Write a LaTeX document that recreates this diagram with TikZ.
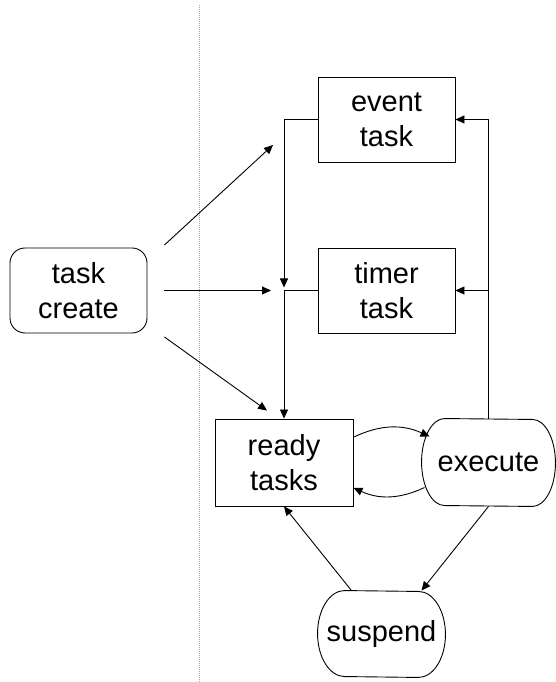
\documentclass[tikz,border=0pt]{standalone}
\usepackage{fontspec}
\setmainfont{Liberation Sans}
\usetikzlibrary{arrows.meta}

\begin{document}
\begin{tikzpicture}[x=1pt,y=1pt, line width=0.9pt,
    every node/.style={align=center, font=\fontsize{29}{35}\selectfont},
    tri/.style={-{Triangle[length=9pt,width=8pt]}},
    taskbox/.style={draw, minimum width=137pt, minimum height=85pt, inner sep=0pt},
    statebox/.style={minimum height=87pt, inner sep=0pt}]
  \useasboundingbox (0,0) rectangle (555,682);
  % dotted separator
  \draw[gray!70, line width=0.6pt, dash pattern=on 1pt off 1pt] (199,677) -- (199,0);

  \node[taskbox, rounded corners=15pt] (create) at (78.5,391.5) {task\\create};
  \node[taskbox] (event) at (386.5,562.5) {event\\task};
  \node[taskbox] (timer) at (386.5,391.5) {timer\\task};
  \node[taskbox, minimum width=138pt, minimum height=87pt] (ready) at (284,219.5) {ready\\tasks};
  \node[statebox, minimum width=133pt] (exec) at (488.5,219.5) {execute};
  \node[statebox, minimum width=127pt, minimum height=86pt] (susp) at (381.5,48) {suspend};
  % rounded ends of the state boxes
  \foreach \n/\r/\h in {exec/23/43.5,susp/27/43}
    \draw ([xshift=\r pt]\n.north west) arc[start angle=90,end angle=270,x radius=\r pt,y radius=\h pt]
      -- ([xshift=-\r pt]\n.south east) arc[start angle=-90,end angle=90,x radius=\r pt,y radius=\h pt] -- cycle;

  \coordinate (join) at (timer.west -| ready.north);
  \coordinate (in1) at (273,537);
  % new tasks
  \draw[tri] ([xshift=17pt,yshift=45.5pt]create.east) -- (in1);
  \draw[tri] ([xshift=17pt]create.east) -- ([xshift=-13pt]join);
  \draw[tri] ([xshift=17pt,yshift=-46.5pt]create.east) -- ([xshift=-17pt,yshift=8pt]ready.north);
  % into the ready queue
  \draw[tri] (event.west) -| ([yshift=3pt]join);
  \draw[tri] (timer.west) -| (ready.north);
  \draw[tri] (exec.north) |- (event.east);
  \draw[tri] (exec.north |- timer.east) -- (timer.east);
  % scheduling loop
  \draw[tri] (ready.20) to[bend left=25] ([xshift=8pt,yshift=26pt]exec.west);
  \draw[tri] ([xshift=3pt,yshift=-25pt]exec.west) to[bend left=25] (ready.-20);
  \draw[tri] (exec.south) -- ([xshift=40pt]susp.north);
  \draw[tri] ([xshift=-30pt]susp.north) -- (ready.south);
\end{tikzpicture}
\end{document}
